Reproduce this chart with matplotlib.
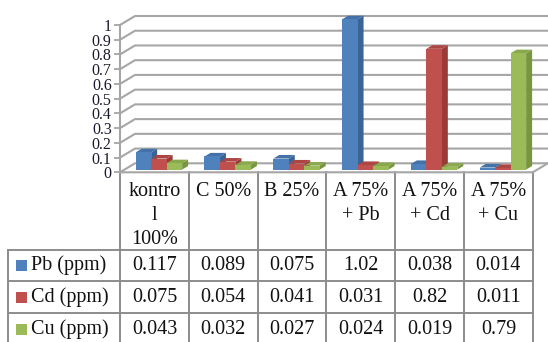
import numpy as np
import matplotlib.pyplot as plt
from matplotlib.patches import Polygon, Rectangle

categories = ["kontro\nl\n100%", "C 50%", "B 25%", "A 75%\n+ Pb", "A 75%\n+ Cd", "A 75%\n+ Cu"]
series_names = ["Pb (ppm)", "Cd (ppm)", "Cu (ppm)"]
pb = [0.117, 0.089, 0.075, 1.02, 0.038, 0.014]
cd = [0.075, 0.054, 0.041, 0.031, 0.82, 0.011]
cu = [0.043, 0.032, 0.027, 0.024, 0.019, 0.79]
value_labels = [["0.117", "0.089", "0.075", "1.02", "0.038", "0.014"],
                ["0.075", "0.054", "0.041", "0.031", "0.82", "0.011"],
                ["0.043", "0.032", "0.027", "0.024", "0.019", "0.79"]]
yticks = np.round(np.arange(0, 1.01, 0.1), 1)

colors = ["#4F81BD", "#C0504D", "#9BBB59"]
tops = ["#4472A8", "#AD4643", "#8AA84C"]
sides = ["#3A6497", "#9A3B38", "#789540"]
grid_c = "#A6A6A6"
font = "Liberation Serif"

W, H = 548, 342
fig = plt.figure(figsize=(W / 100, H / 100), dpi=100)

# table layout axes in pixel units
tab = fig.add_axes([0, 0, 1, 1])
tab.set_xlim(0, W)
tab.set_ylim(H, 0)
tab.axis("off")

# chart axes: x = category index, y = value
x0_px, col_w = 120, 68.8
y0_px, y1_px = 172.3, 25
ax = fig.add_axes([x0_px / W, (H - y0_px) / H, col_w * 6 / W, (y0_px - y1_px) / H])
ax.set_xlim(-0.5, 5.5)
ax.set_ylim(0, 1)
ax.patch.set_visible(False)
for s in ["top", "right", "bottom"]:
    ax.spines[s].set_visible(False)
ax.spines["left"].set_color(grid_c)
ax.spines["left"].set_linewidth(1.5)
ax.set_xticks([])
ax.set_yticks(yticks)
ax.set_yticklabels([f"{t:g}" for t in yticks], fontfamily=font, fontsize=11.5, color="#1A1A2E")
ax.tick_params(axis="y", length=4, width=1.3, color=grid_c, pad=2)

# depth of the 3d box in data units
dx = 15 / col_w
dy = 9 / (y0_px - y1_px)

# back wall gridlines and floor
for t in yticks:
    ax.plot([-0.5, -0.5 + dx, 5.5 + dx], [t, t + dy, t + dy], color=grid_c, lw=1.5,
            clip_on=False, zorder=1)
ax.plot([-0.5, 5.5, 5.5 + dx], [0, 0, dy], color=grid_c, lw=1.5, clip_on=False, zorder=1)

# 3d bars
w = 0.225
fx, fy = 0.3 * dx, 0.3 * dy
bx, by = 0.4 * dx, 0.4 * dy
for i in range(len(categories)):
    for j, vals in enumerate([pb, cd, cu]):
        v = vals[i]
        xl = i - 1.5 * w + j * w + fx
        yb = fy
        yt = v + fy
        front = Rectangle((xl, yb), w, v, facecolor=colors[j], edgecolor="none", zorder=3 + j)
        top = Polygon([(xl, yt), (xl + w, yt), (xl + w + bx, yt + by), (xl + bx, yt + by)],
                      facecolor=tops[j], edgecolor="none", zorder=3 + j)
        side = Polygon([(xl + w, yb), (xl + w + bx, yb + by), (xl + w + bx, yt + by), (xl + w, yt)],
                       facecolor=sides[j], edgecolor="none", zorder=3 + j)
        for p in (side, top, front):
            p.set_clip_on(False)
            ax.add_patch(p)

# data table
line_c = "#8C8C8C"
row_y = [249.5, 281, 313, 345]
col_x = [x0_px + col_w * k for k in range(len(categories) + 1)]
for xx in col_x:
    tab.plot([xx, xx], [y0_px, H + 5], color=line_c, lw=1.4)
tab.plot([8, 8], [row_y[0], H + 5], color=line_c, lw=1.4)
for yy in row_y:
    tab.plot([8, col_x[-1]], [yy, yy], color=line_c, lw=1.4)

for k, name in enumerate(categories):
    tab.text(col_x[k] + col_w / 2, 182, name, ha="center", va="top", fontfamily=font,
             fontsize=14.5, linespacing=1.36, color="#111111")

for r, name in enumerate(series_names):
    yc = (row_y[r] + row_y[r + 1]) / 2
    tab.add_patch(Rectangle((16, yc - 5.5), 11, 11, facecolor=colors[r], edgecolor="none"))
    tab.text(31, yc, name, ha="left", va="center", fontfamily=font, fontsize=14.5, color="#111111")
    for k in range(len(categories)):
        tab.text(col_x[k] + col_w / 2, yc, value_labels[r][k], ha="center", va="center",
                 fontfamily=font, fontsize=14.5, color="#111111")

fig.savefig("out.png", dpi=100)
